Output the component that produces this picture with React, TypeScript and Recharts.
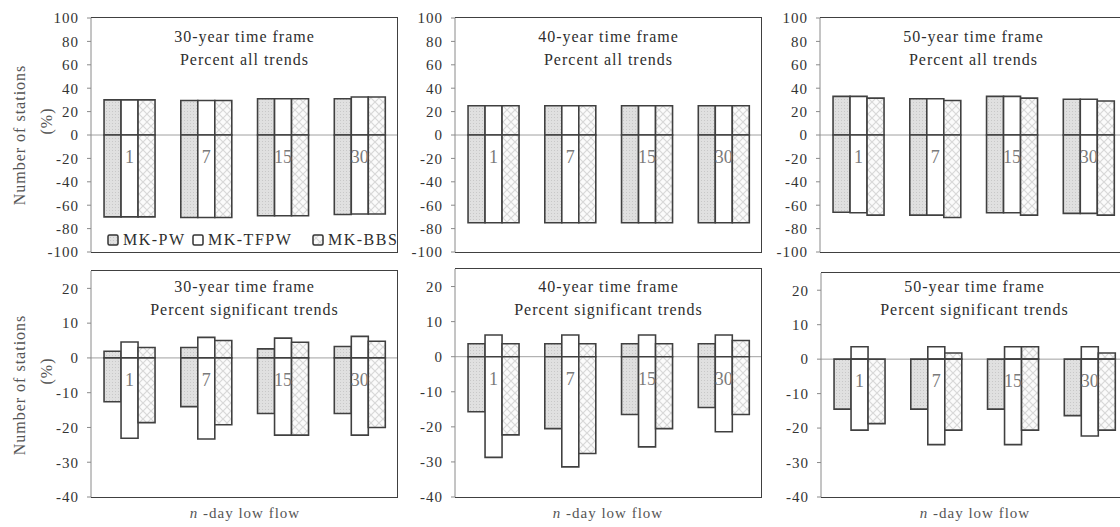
import React from "react";
import {
  BarChart,
  Bar,
  XAxis,
  YAxis,
  CartesianGrid,
  LabelList,
} from "recharts";

// n-day low flow durations
const categories = ["1", "7", "15", "30"];
const seriesNames = ["MK-PW", "MK-TFPW", "MK-BBS"];

// [upward %, downward %] per category
const all30PW: [number, number][] = [[30, -70], [29.5, -70.5], [31, -69], [31, -68]];
const all30TF: [number, number][] = [[30, -70], [29.5, -70.5], [31, -69], [32.5, -67.5]];
const all30BB: [number, number][] = [[30, -70], [29.5, -70.5], [31, -69], [32.5, -67.5]];

const all40PW: [number, number][] = [[25, -75], [25, -75], [25, -75], [25, -75]];
const all40TF: [number, number][] = [[25, -75], [25, -75], [25, -75], [25, -75]];
const all40BB: [number, number][] = [[25, -75], [25, -75], [25, -75], [25, -75]];

const all50PW: [number, number][] = [[33, -66], [31, -68.5], [33, -66.5], [30.5, -67]];
const all50TF: [number, number][] = [[33, -66.5], [31, -68.5], [33, -66.5], [30.5, -67]];
const all50BB: [number, number][] = [[31.5, -68.5], [29.5, -70.5], [31.5, -68.5], [29, -68.5]];

const sig30PW: [number, number][] = [[1.9, -12.6], [3, -14], [2.6, -16], [3.3, -16]];
const sig30TF: [number, number][] = [[4.6, -23.1], [5.9, -23.3], [5.7, -22.2], [6.2, -22.2]];
const sig30BB: [number, number][] = [[3, -18.6], [5, -19.2], [4.5, -22.2], [4.8, -20]];

const sig40PW: [number, number][] = [[3.7, -15.7], [3.7, -20.5], [3.7, -16.5], [3.7, -14.5]];
const sig40TF: [number, number][] = [[6.2, -28.7], [6.2, -31.4], [6.2, -25.7], [6.2, -21.4]];
const sig40BB: [number, number][] = [[3.7, -22.3], [3.7, -27.6], [3.7, -20.5], [4.6, -16.5]];

const sig50PW: [number, number][] = [[0, -14.5], [0, -14.5], [0, -14.5], [0, -16.4]];
const sig50TF: [number, number][] = [[3.6, -20.6], [3.6, -24.8], [3.6, -24.8], [3.6, -22.3]];
const sig50BB: [number, number][] = [[0, -18.7], [1.8, -20.6], [3.6, -20.6], [1.8, -20.6]];

const allTicks = [-100, -80, -60, -40, -20, 0, 20, 40, 60, 80, 100];
const sigTicks = [-40, -30, -20, -10, 0, 10, 20];

const FONT = "'Liberation Serif', 'Times New Roman', Times, serif";
const STROKE = "#404040";

function makeRows(pw: [number, number][], tf: [number, number][], bb: [number, number][]) {
  return categories.map((cat, i) => ({
    cat,
    pwUp: pw[i][0],
    pwDown: pw[i][1],
    tfUp: tf[i][0],
    tfDown: tf[i][1],
    bbUp: bb[i][0],
    bbDown: bb[i][1],
  }));
}

function Patterns({ id }: { id: string }) {
  return (
    <defs>
      <pattern id={`pw-${id}`} width="3" height="3" patternUnits="userSpaceOnUse">
        <rect width="3" height="3" fill="#e0e0e0" />
        <rect x="0" y="0" width="1" height="1" fill="#c8c8c8" />
      </pattern>
      <pattern id={`bb-${id}`} width="8" height="8" patternUnits="userSpaceOnUse">
        <rect width="8" height="8" fill="#fbfbfb" />
        <path d="M0 0L8 8M8 0L0 8" stroke="#d8d8d8" strokeWidth="1.2" />
      </pattern>
    </defs>
  );
}

// category label sits just under the zero line, centred on the middle bar
const catLabel = (props: any) => {
  const { x, y, width, height, value } = props;
  const zero = Math.min(y, y + height);
  return (
    <text
      x={x + width / 2}
      y={zero + 24}
      textAnchor="middle"
      dominantBaseline="middle"
      fontFamily={FONT}
      fontSize={18}
      fill="#7a7a7a"
    >
      {value}
    </text>
  );
};

type PanelProps = {
  id: string;
  left: number;
  top: number;
  plotH: number;
  domain: [number, number];
  ticks: number[];
  rows: any[];
  title: string;
  subtitle: string;
  titleOffset: [number, number];
  legend?: boolean;
};

function Panel(p: PanelProps) {
  const plotW = 307;
  const axisW = 60;
  const padT = 12;
  const padB = 12;
  const w = plotW + axisW;
  const h = p.plotH + padT + padB;
  const bar = (key: string, stack: string, fill: string, label?: boolean) => (
    <Bar
      dataKey={key}
      stackId={stack}
      fill={fill}
      stroke={STROKE}
      strokeWidth={1.6}
      isAnimationActive={false}
    >
      {label ? <LabelList dataKey="cat" content={catLabel} /> : null}
    </Bar>
  );
  return (
    <div style={{ position: "absolute", left: p.left - axisW, top: p.top - padT, width: w, height: h }}>
      <BarChart
        width={w}
        height={h}
        data={p.rows}
        margin={{ top: padT, right: 0, bottom: padB, left: 0 }}
        stackOffset="sign"
        barCategoryGap="17%"
        barGap={0}
      >
        <Patterns id={p.id} />
        <CartesianGrid vertical={false} horizontalValues={[0]} stroke="#a0a0a0" strokeWidth={1} />
        <XAxis dataKey="cat" hide />
        <YAxis
          width={axisW}
          domain={p.domain}
          ticks={p.ticks}
          allowDataOverflow
          interval={0}
          axisLine={{ stroke: "#8a8a8a" }}
          tickLine={{ stroke: "#8a8a8a" }}
          tickSize={4}
          tickMargin={8}
          tick={{ fill: "#333", fontSize: 15, fontFamily: FONT, letterSpacing: 1 }}
        />
        {bar("pwUp", "pw", `url(#pw-${p.id})`)}
        {bar("pwDown", "pw", `url(#pw-${p.id})`)}
        {bar("tfUp", "tf", "#ffffff")}
        {bar("tfDown", "tf", "#ffffff", true)}
        {bar("bbUp", "bb", `url(#bb-${p.id})`)}
        {bar("bbDown", "bb", `url(#bb-${p.id})`)}
      </BarChart>
      <div
        style={{
          position: "absolute",
          left: axisW,
          top: padT - 1,
          width: plotW,
          height: p.plotH + 2,
          boxSizing: "border-box",
          borderTop: `1.5px solid ${STROKE}`,
          borderRight: `1.5px solid ${STROKE}`,
          borderBottom: `1.5px solid ${STROKE}`,
          pointerEvents: "none",
        }}
      />
      {[p.title, p.subtitle].map((t, i) => (
        <div
          key={t}
          style={{
            position: "absolute",
            left: axisW,
            width: plotW,
            top: padT + p.titleOffset[i] - 10,
            height: 20,
            lineHeight: "20px",
            textAlign: "center",
            fontFamily: FONT,
            fontSize: 16,
            letterSpacing: 1,
            color: "#2e2e2e",
            whiteSpace: "nowrap",
          }}
        >
          {t}
        </div>
      ))}
      {p.legend ? <LegendRow top={padT + p.plotH - 22} left={axisW} /> : null}
    </div>
  );
}

function LegendRow({ top, left }: { top: number; left: number }) {
  const fills = ["url(#pw-lg)", "#ffffff", "url(#bb-lg)"];
  const starts = [16, 101, 221];
  return (
    <div style={{ position: "absolute", top, left, height: 20 }}>
      {seriesNames.map((name, i) => (
        <div
          key={name}
          style={{
            position: "absolute",
            left: starts[i],
            top: 0,
            display: "flex",
            alignItems: "center",
            height: 20,
            whiteSpace: "nowrap",
          }}
        >
          <svg width={12} height={12} style={{ marginRight: 4 }}>
            <Patterns id="lg" />
            <rect x={1} y={1} width={10} height={10} rx={1.5} fill={fills[i]} stroke="#333" strokeWidth={1.5} />
          </svg>
          <span style={{ fontFamily: FONT, fontSize: 16, letterSpacing: 1.5, color: "#2e2e2e" }}>{name}</span>
        </div>
      ))}
    </div>
  );
}

function SideLabel({ cy }: { cy: number }) {
  const base: React.CSSProperties = {
    position: "absolute",
    fontFamily: FONT,
    fontSize: 16,
    letterSpacing: 1,
    color: "#555",
    whiteSpace: "nowrap",
    transform: "translate(-50%, -50%) rotate(-90deg)",
  };
  return (
    <>
      <div style={{ ...base, left: 20, top: cy }}>Number of stations</div>
      <div style={{ ...base, left: 47, top: cy - 14 }}>(%)</div>
    </>
  );
}

function XLabel({ cx }: { cx: number }) {
  return (
    <div
      style={{
        position: "absolute",
        left: cx,
        top: 513,
        transform: "translate(-50%, -50%)",
        fontFamily: FONT,
        fontSize: 15,
        letterSpacing: 1,
        color: "#555",
        whiteSpace: "nowrap",
      }}
    >
      <i>n</i> -day low flow
    </div>
  );
}

export default function App() {
  const topTitle = "Percent all trends";
  const botTitle = "Percent significant trends";
  return (
    <div
      style={{
        position: "absolute",
        left: 0,
        top: 0,
        width: 1120,
        height: 527,
        overflow: "hidden",
        background: "#fff",
      }}
    >
      <SideLabel cy={135} />
      <SideLabel cy={385} />
      <Panel id="a30" left={91} top={18} plotH={234} domain={[-100, 100]} ticks={allTicks}
        rows={makeRows(all30PW, all30TF, all30BB)} title="30-year time frame" subtitle={topTitle}
        titleOffset={[19, 42]} legend />
      <Panel id="a40" left={455} top={18} plotH={234} domain={[-100, 100]} ticks={allTicks}
        rows={makeRows(all40PW, all40TF, all40BB)} title="40-year time frame" subtitle={topTitle}
        titleOffset={[19, 42]} />
      <Panel id="a50" left={820} top={18} plotH={234} domain={[-100, 100]} ticks={allTicks}
        rows={makeRows(all50PW, all50TF, all50BB)} title="50-year time frame" subtitle={topTitle}
        titleOffset={[19, 42]} />
      <Panel id="s30" left={91} top={271} plotH={226} domain={[-40, 25]} ticks={sigTicks}
        rows={makeRows(sig30PW, sig30TF, sig30BB)} title="30-year time frame" subtitle={botTitle}
        titleOffset={[16, 39]} />
      <Panel id="s40" left={455} top={269} plotH={228} domain={[-40, 25]} ticks={sigTicks}
        rows={makeRows(sig40PW, sig40TF, sig40BB)} title="40-year time frame" subtitle={botTitle}
        titleOffset={[18, 41]} />
      <Panel id="s50" left={821} top={273} plotH={224} domain={[-40, 25]} ticks={sigTicks}
        rows={makeRows(sig50PW, sig50TF, sig50BB)} title="50-year time frame" subtitle={botTitle}
        titleOffset={[14, 37]} />
      <XLabel cx={245} />
      <XLabel cx={608} />
      <XLabel cx={975} />
    </div>
  );
}
